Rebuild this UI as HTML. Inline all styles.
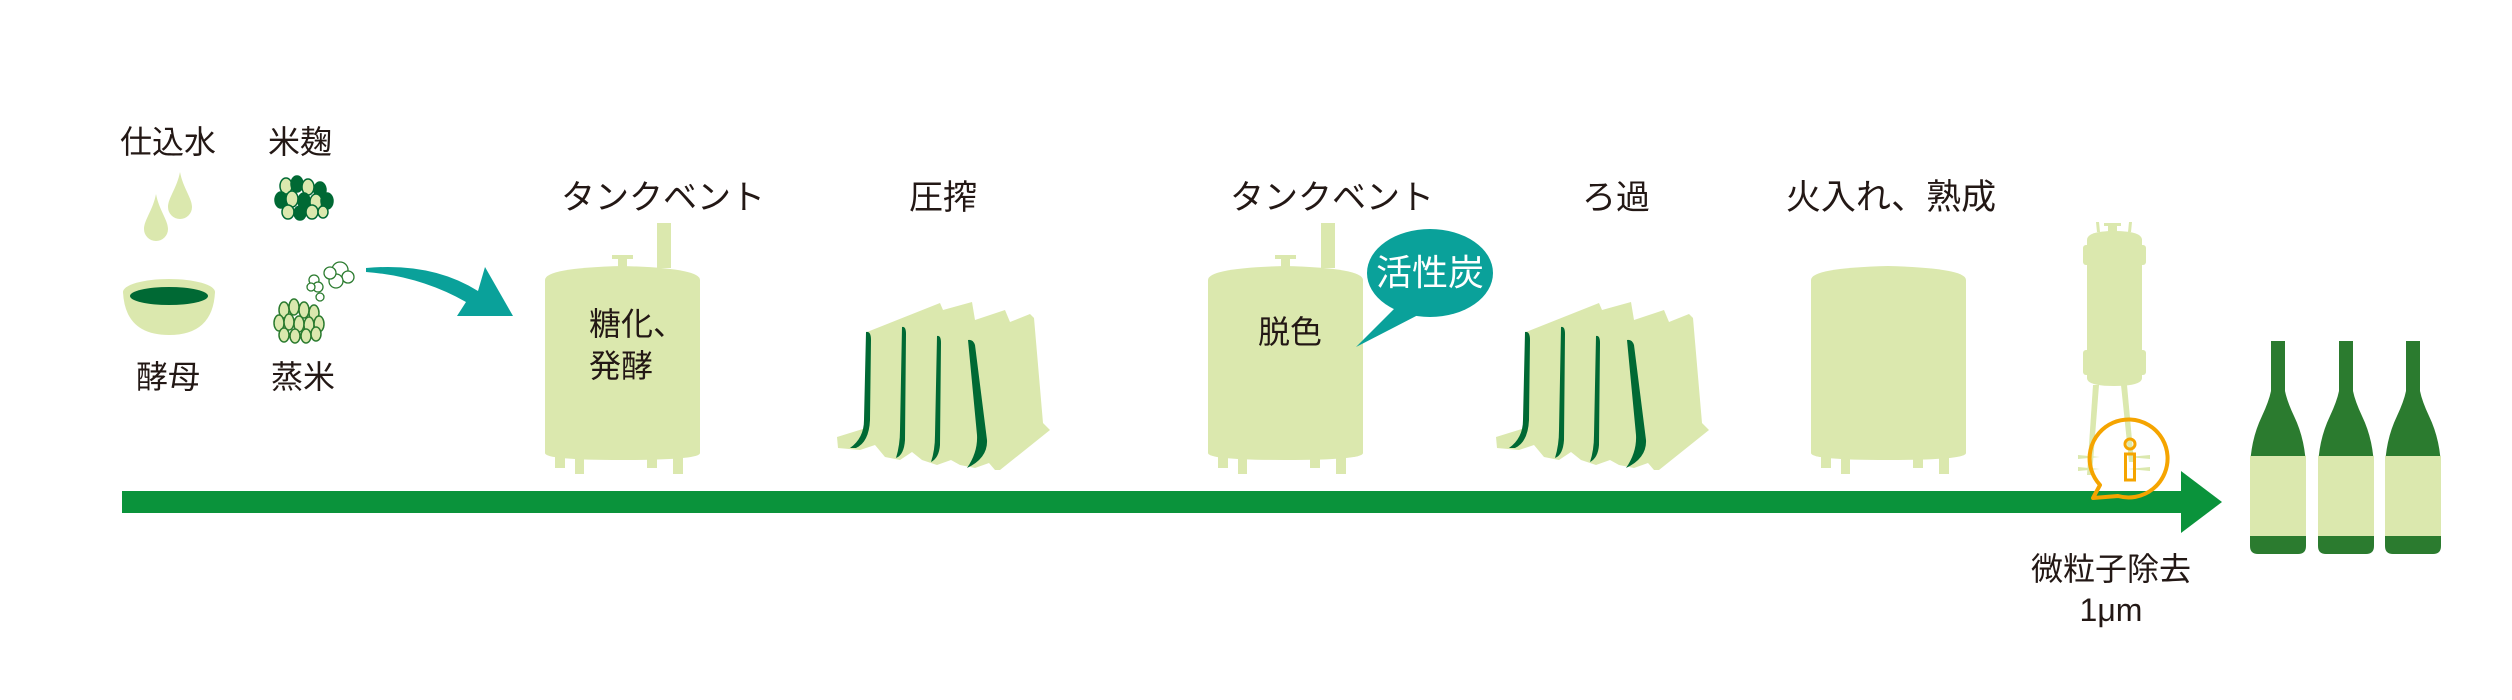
<!DOCTYPE html>
<html><head><meta charset="utf-8"><style>
html,body{margin:0;padding:0;background:#fff;}
svg{display:block;}
text{font-family:"Liberation Sans","Noto Sans CJK JP",sans-serif;fill:#231815;}
</style></head><body>
<svg width="2512" height="700" viewBox="0 0 2512 700" xmlns="http://www.w3.org/2000/svg">
<defs>
<g id="tank">
  <path d="M0,12 Q0,0 77,-2 Q155,0 155,12 L155,185 Q155,192 77,192 Q0,192 0,185 Z" fill="#dbe8ae"/>
  <rect x="10" y="188" width="10" height="12" fill="#dbe8ae"/>
  <rect x="30" y="188" width="9" height="18" fill="#dbe8ae"/>
  <rect x="102" y="188" width="10" height="12" fill="#dbe8ae"/>
  <rect x="128" y="188" width="10" height="18" fill="#dbe8ae"/>
</g>
<g id="press">
  <path d="M837,437 L866,428 L867,332 L940,303 L943,310 L972,302 L975,320 L1005,310 L1010,322 L1030,314 L1034,318 L1043,423 L1050,430 L1000,470 L995,470 L989,463 L975,468 L960,465 L951,460 L937,465 L922,460 L912,452 L900,460 L885,457 L875,445 L860,450 L838,448 Z" fill="#dbe8ae"/>
  <path d="M866,332 Q871,331 871,340 L870,420 Q869,442 856,448 L850,448 Q864,438 864,420 Z" fill="#006934"/>
  <path d="M902,327 Q906,326 906,334 L905,440 Q904,455 896,458 Q900,445 900,430 Z" fill="#006934"/>
  <path d="M937,336 Q941,335 941,343 L940,445 Q939,458 931,462 Q935,450 935,435 Z" fill="#006934"/>
  <path d="M968,340 Q973,339 975,345 L987,440 Q988,458 967,468 Q978,452 977,435 Z" fill="#006934"/>
</g>
<g id="bottle">
  <path d="M-7,0 L7,0 L7,50 Q9,60 16,75 Q28,100 28,130 L28,205 Q28,213 20,213 L-20,213 Q-28,213 -28,205 L-28,130 Q-28,100 -16,75 Q-9,60 -7,50 Z" fill="#2b7b2f"/>
  <rect x="-28" y="115" width="56" height="80" fill="#dbe8ae"/>
</g>
</defs>

<!-- drops -->
<path d="M180,172 C183,188 192,198 192,207 A12,12 0 0 1 168,207 C168,198 177,188 180,172 Z" fill="#dbe8ae"/>
<path d="M156,194 C159,210 168,220 168,229 A12,12 0 0 1 144,229 C144,220 153,210 156,194 Z" fill="#dbe8ae"/>
<!-- bowl -->
<path d="M123,292 Q125,335 169,335 Q213,335 215,292 Z" fill="#dbe8ae"/>
<ellipse cx="169" cy="292" rx="46" ry="13" fill="#dbe8ae"/>
<ellipse cx="169" cy="296" rx="39" ry="9" fill="#006934"/>

<!-- koji balls -->
<g stroke="#006934" stroke-width="1.5">
<ellipse cx="286" cy="186" rx="6" ry="8" fill="#dbe8ae"/>
<ellipse cx="297" cy="184" rx="6" ry="8" fill="#006934"/>
<ellipse cx="308" cy="187" rx="6" ry="8" fill="#dbe8ae"/>
<ellipse cx="320" cy="190" rx="6" ry="8" fill="#006934"/>
<ellipse cx="281" cy="200" rx="6" ry="8" fill="#006934"/>
<ellipse cx="292" cy="199" rx="6" ry="8" fill="#dbe8ae"/>
<ellipse cx="304" cy="201" rx="6" ry="8" fill="#006934"/>
<ellipse cx="316" cy="202" rx="6" ry="8" fill="#dbe8ae"/>
<ellipse cx="327" cy="201" rx="6" ry="8" fill="#006934"/>
<ellipse cx="288" cy="212" rx="6" ry="7" fill="#dbe8ae"/>
<ellipse cx="300" cy="213" rx="6" ry="7" fill="#006934"/>
<ellipse cx="312" cy="212" rx="6" ry="7" fill="#dbe8ae"/>
<ellipse cx="323" cy="212" rx="5" ry="6" fill="#dbe8ae"/>
</g>
<!-- steamed rice -->
<g stroke="#2b7b2f" stroke-width="1.5" fill="#dbe8ae">
<ellipse cx="284" cy="310" rx="5" ry="8"/><ellipse cx="294" cy="307" rx="5" ry="8"/><ellipse cx="304" cy="310" rx="5" ry="8"/><ellipse cx="314" cy="313" rx="5" ry="8"/>
<ellipse cx="279" cy="323" rx="5" ry="8"/><ellipse cx="289" cy="322" rx="5" ry="8"/><ellipse cx="299" cy="324" rx="5" ry="8"/><ellipse cx="309" cy="325" rx="5" ry="8"/><ellipse cx="319" cy="324" rx="5" ry="8"/>
<ellipse cx="284" cy="335" rx="5" ry="7"/><ellipse cx="295" cy="336" rx="5" ry="7"/><ellipse cx="306" cy="336" rx="5" ry="7"/><ellipse cx="316" cy="334" rx="5" ry="7"/>
</g>
<!-- steam -->
<g stroke="#2b7b2f" stroke-width="1.3" fill="#fff">
<circle cx="340" cy="270" r="8"/><circle cx="348" cy="277" r="6"/><circle cx="336" cy="281" r="7"/><circle cx="330" cy="273" r="6"/>
<circle cx="314" cy="280" r="5"/><circle cx="318" cy="287" r="5"/><circle cx="311" cy="287" r="4"/>
<ellipse cx="320" cy="297" rx="4" ry="4"/>
</g>
<!-- teal arrow -->
<path d="M366,268 Q432,262 478,291 L485,267 L513,316 L457,316 L466,302 Q420,276 366,272 Z" fill="#0aa19a"/>

<!-- tank 1 -->
<rect x="657" y="223" width="14" height="45" fill="#dbe8ae"/>
<rect x="618" y="258" width="9" height="10" fill="#dbe8ae"/>
<rect x="612" y="255" width="21" height="4" fill="#dbe8ae"/>
<use href="#tank" x="545" y="268"/>
<!-- press 1 -->
<use href="#press"/>
<!-- tank 2 -->
<rect x="1321" y="223" width="14" height="45" fill="#dbe8ae"/>
<rect x="1281" y="258" width="9" height="10" fill="#dbe8ae"/>
<rect x="1275" y="255" width="21" height="4" fill="#dbe8ae"/>
<use href="#tank" x="1208" y="268"/>
<!-- bubble -->
<path d="M1400,303 L1356,347 L1420,314 Z" fill="#0aa19a"/>
<ellipse cx="1430" cy="273" rx="63" ry="44" fill="#0aa19a"/>
<!-- press 2 -->
<use href="#press" x="659"/>
<!-- tank 3 -->
<use href="#tank" x="1811" y="268"/>

<!-- filter -->
<g fill="#dbe8ae">
<rect x="2108" y="225" width="9" height="8"/>
<rect x="2104" y="223" width="17" height="3"/>
<path d="M2097,232 L2096,222 L2099,222 L2100,232 Z"/>
<path d="M2128,232 L2129,222 L2132,222 L2131,232 Z"/>
<path d="M2087,240 Q2087,231 2114,231 Q2142,231 2142,240 L2142,378 Q2142,386 2114,386 Q2087,386 2087,378 Z"/>
<rect x="2083" y="245" width="63" height="20" rx="3"/>
<rect x="2083" y="350" width="63" height="25" rx="3"/>
<path d="M2093,385 L2099,385 L2092,475 L2087,475 Z"/>
<path d="M2121,385 L2127,385 L2134,462 L2129,462 Z"/>
<path d="M2078,455 L2100,457 L2078,459 Z"/>
<path d="M2078,467 L2100,469 L2078,471 Z"/>
<path d="M2150,455 L2128,457 L2150,459 Z"/>
<path d="M2150,467 L2128,469 L2150,471 Z"/>
</g>

<!-- main bar -->
<rect x="122" y="491" width="2062" height="22" fill="#0a933b"/>
<path d="M2181,471 L2222,502 L2181,533 Z" fill="#0a933b"/>

<!-- info bubble -->
<path d="M2100,485 A39,39 0 1 1 2118,496 L2093,498 Z" fill="none" stroke="#f5a400" stroke-width="4" stroke-linejoin="round"/>
<circle cx="2130" cy="444" r="5" fill="none" stroke="#f5a400" stroke-width="3"/>
<rect x="2125.5" y="454" width="9" height="26" fill="none" stroke="#f5a400" stroke-width="3"/>

<!-- bottles -->
<use href="#bottle" x="2278" y="341"/>
<use href="#bottle" x="2346" y="341"/>
<use href="#bottle" x="2413" y="341"/>

<!-- texts -->
<g font-size="32" text-anchor="middle">
<text x="168" y="153">仕込水</text>
<text x="300" y="153">米麹</text>
<text x="168" y="388">酵母</text>
<text x="303" y="388">蒸米</text>
<text x="2111" y="580">微粒子除去</text>
<text x="2111" y="621">1μm</text>
</g>
<g font-size="34" text-anchor="middle">
<text x="663" y="209">タンクベント</text>
<text x="943" y="209">圧搾</text>
<text x="1332" y="209">タンクベント</text>
<text x="1616" y="209">ろ過</text>
<text x="1891" y="209" font-size="35">火入れ、熟成</text>
<text x="1290" y="343" font-size="32">脱色</text>
<text x="1430" y="285" font-size="36" style="fill:#fff">活性炭</text>
</g>
<g font-size="32">
<text x="589" y="335">糖化、</text>
<text x="589" y="377">発酵</text>
</g>
</svg>
</body></html>
